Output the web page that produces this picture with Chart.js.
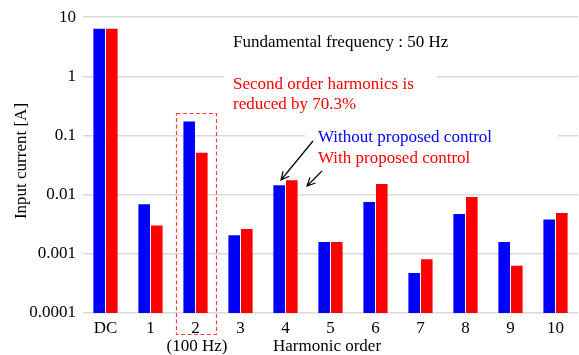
<!DOCTYPE html>
<html>
<head>
<meta charset="utf-8">
<script src="https://cdn.jsdelivr.net/npm/chart.js@4/dist/chart.umd.min.js"></script>
<style>
  html, body { margin: 0; padding: 0; background: #fff; }
  canvas { display: block; }
</style>
</head>
<body>
<canvas id="harmonicsChart" width="579" height="355"></canvas>
<script>
// Harmonic spectrum of the input current, with and without the proposed control

const categories = ['DC', '1', '2', '3', '4', '5', '6', '7', '8', '9', '10'];
const withoutControl = [6.4, 0.0069, 0.172, 0.00206, 0.0145, 0.00159, 0.0075, 0.000476, 0.0047, 0.00159, 0.0038];
const withControl = [6.4, 0.0030, 0.051, 0.00263, 0.0176, 0.00159, 0.0151, 0.00081, 0.0091, 0.00063, 0.0049];
const yTicks = [10, 1, 0.1, 0.01, 0.001, 0.0001];
const yTickLabels = ['10', '1', '0.1', '0.01', '0.001', '0.0001'];

const FONT = '"Liberation Serif", "Times New Roman", serif';

// Helper: arrow with open head at (x2, y2)
function drawArrow(ctx, x1, y1, x2, y2) {
    const ang = Math.atan2(y2 - y1, x2 - x1);
    const head = 9;
    ctx.beginPath();
    ctx.moveTo(x1, y1);
    ctx.lineTo(x2, y2);
    ctx.moveTo(x2 - head * Math.cos(ang - 0.45), y2 - head * Math.sin(ang - 0.45));
    ctx.lineTo(x2, y2);
    ctx.lineTo(x2 - head * Math.cos(ang + 0.45), y2 - head * Math.sin(ang + 0.45));
    ctx.stroke();
}

// ---------------------------
// Annotations drawn over the chart
// ---------------------------
const annotations = {
    id: 'annotations',
    afterDraw(chart) {
        const ctx = chart.ctx;
        const x = chart.scales.x;
        ctx.save();

        // white boxes behind the text (they cut the grid lines)
        ctx.fillStyle = '#ffffff';
        ctx.fillRect(224, 68, 213, 46);
        ctx.fillRect(305, 126, 253, 44);

        ctx.font = '17px ' + FONT;
        ctx.textBaseline = 'middle';
        ctx.textAlign = 'left';
        ctx.fillStyle = '#000000';
        ctx.fillText('Fundamental frequency : 50 Hz', 233, 43);
        ctx.fillStyle = '#ff0000';
        ctx.fillText('Second order harmonics is', 233, 85);
        ctx.fillText('reduced by 70.3%', 233, 105);
        ctx.fillStyle = '#0000ff';
        ctx.fillText('Without proposed control', 318, 138);
        ctx.fillStyle = '#ff0000';
        ctx.fillText('With proposed control', 318, 159);

        // arrows to the 4th harmonic bars
        ctx.strokeStyle = '#000000';
        ctx.lineWidth = 1.2;
        drawArrow(ctx, 313, 141, 281, 180);
        drawArrow(ctx, 322, 171, 307, 186);

        // dashed box around the 2nd harmonic
        const cx = Math.round(x.getPixelForValue(2));
        ctx.beginPath();
        ctx.strokeStyle = '#ff4040';
        ctx.lineWidth = 1.2;
        ctx.setLineDash([4, 2.5]);
        ctx.rect(cx - 19.5, 113.5, 40, 221);
        ctx.stroke();
        ctx.setLineDash([]);

        // axis titles and sub label
        ctx.fillStyle = '#000000';
        ctx.textAlign = 'center';
        ctx.fillText('(100 Hz)', cx + 1, 347);
        ctx.fillText('Harmonic order', 327, 347);
        ctx.translate(22, 161);
        ctx.rotate(-Math.PI / 2);
        ctx.fillText('Input current [A]', 0, 0);

        ctx.restore();
    }
};

// ---------------------------
// Chart
// ---------------------------
new Chart(document.getElementById('harmonicsChart').getContext('2d'), {
    type: 'bar',
    data: {
        labels: categories,
        datasets: [
            { label: 'Without proposed control', data: withoutControl, backgroundColor: '#0000ff' },
            { label: 'With proposed control', data: withControl, backgroundColor: '#ff0000' }
        ]
    },
    options: {
        responsive: false,
        devicePixelRatio: 1,
        animation: false,
        categoryPercentage: 0.56,
        barPercentage: 0.92,
        layout: { padding: { top: 17, right: 1, left: 0, bottom: 0 } },
        plugins: { legend: { display: false }, tooltip: { enabled: false } },
        scales: {
            x: {
                grid: { display: false, drawTicks: false },
                border: { display: false },
                ticks: { color: '#000', font: { family: FONT, size: 17 }, padding: 5, maxRotation: 0 },
                afterFit: s => { s.height = 42; }
            },
            y: {
                type: 'logarithmic',
                min: 0.0001,
                max: 10,
                grid: { color: '#d9d9d9', lineWidth: 1.5, drawTicks: false },
                border: { display: false },
                afterBuildTicks: s => { s.ticks = yTicks.map(v => ({ value: v })); },
                ticks: {
                    color: '#000',
                    font: { family: FONT, size: 17 },
                    padding: 7,
                    callback: v => yTickLabels[yTicks.indexOf(v)]
                },
                afterFit: s => { s.width = 83; }
            }
        }
    },
    plugins: [annotations]
});
</script>
</body>
</html>
